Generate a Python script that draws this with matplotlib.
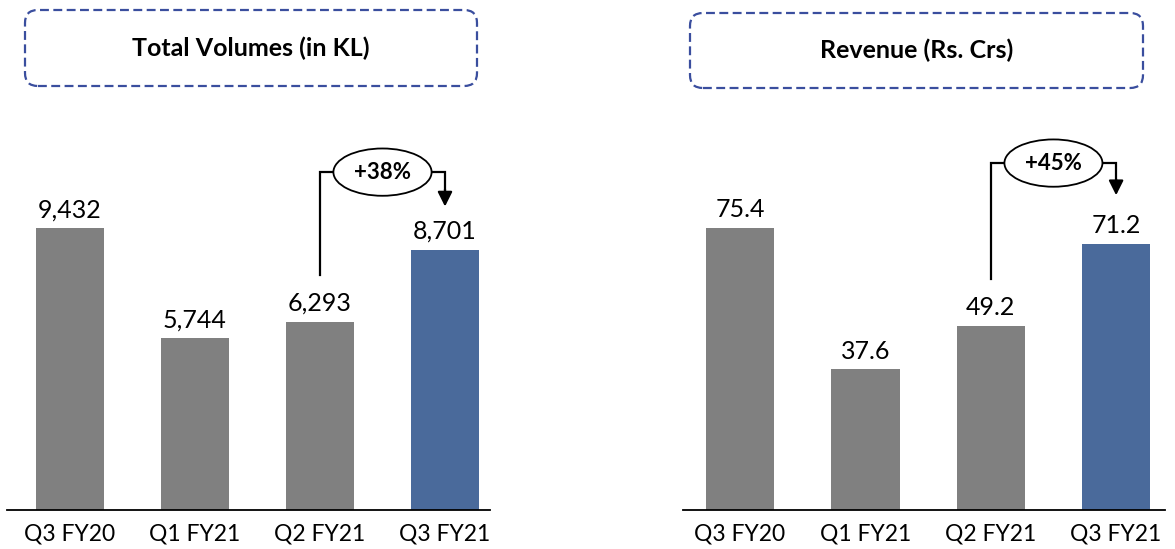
import matplotlib
matplotlib.use('Agg')
import matplotlib.pyplot as plt
from matplotlib.patches import FancyBboxPatch

plt.rcParams['font.family'] = ['Lato', 'DejaVu Sans']

quarters = ['Q3 FY20', 'Q1 FY21', 'Q2 FY21', 'Q3 FY21']
volumes = [9432, 5744, 6293, 8701]
revenue = [75.4, 37.6, 49.2, 71.2]
volume_growth = '+38%'
revenue_growth = '+45%'

W, H = 1175, 549
GRAY = '#808080'
BLUE = '#4A6A9B'
BOX = '#3A4E9E'


def px_rect(x0, y0, x1, y1):
    """pixel box (top-left origin) -> figure fraction [l, b, w, h]"""
    return [x0 / W, 1 - y1 / H, (x1 - x0) / W, (y1 - y0) / H]


def title_box(fig, x0, y0, x1, y1, text):
    l, b, w, h = px_rect(x0, y0, x1, y1)
    box = FancyBboxPatch((l, b), w, h, transform=fig.transFigure,
                         boxstyle='round,pad=0,rounding_size=0.011',
                         fill=False, edgecolor=BOX, linewidth=1.6,
                         linestyle=(0, (4, 2)), mutation_aspect=W / H)
    fig.patches.append(box)
    fig.text(l + w / 2, b + h / 2, text, ha='center', va='center',
             fontsize=18, fontweight='bold')


def bar_panel(ax, values, fmt, xlim, ylim, growth, line_low, line_top, tip, lbl_x):
    x = range(len(values))
    colors = [GRAY] * (len(values) - 1) + [BLUE]
    ax.bar(x, values, width=0.545, color=colors)
    for xi, v in zip(x, values):
        ax.text(xi, v + ylim[1] * 0.017, fmt(v), ha='center', va='bottom', fontsize=18)
    ax.set_xlim(*xlim)
    ax.set_ylim(*ylim)
    ax.set_xticks(list(x))
    ax.set_xticklabels(quarters, fontsize=16.5)
    ax.tick_params(axis='x', length=0, pad=10)
    ax.set_yticks([])
    for s in ['top', 'left', 'right']:
        ax.spines[s].set_visible(False)
    ax.spines['bottom'].set_linewidth(1.3)

    # growth bracket from Q2 to Q3
    ax.plot([2, 2, 3, 3], [line_low, line_top, line_top, tip + (line_top - tip) * 0.45],
            color='black', linewidth=1.6, solid_joinstyle='miter')
    ax.annotate('', xy=(3, tip), xytext=(3, tip + (line_top - tip) * 0.5),
                arrowprops=dict(arrowstyle='-|>', color='black', lw=1.6,
                                mutation_scale=22, shrinkA=0, shrinkB=0))
    ax.text(lbl_x, line_top, growth, ha='center', va='center', fontsize=16,
            fontweight='bold',
            bbox=dict(boxstyle='ellipse,pad=0.28', facecolor='white',
                      edgecolor='black', linewidth=1.3))


fig = plt.figure(figsize=(W / 100, H / 100), dpi=100)

ax1 = fig.add_axes(px_rect(7, 110, 490, 510))
bar_panel(ax1, volumes, lambda v: f'{v:,}', (-0.504, 3.36), (0, 13378),
          volume_growth, 7860, 11300, 10150, 2.5)

ax2 = fig.add_axes(px_rect(683, 110, 1165, 510))
bar_panel(ax2, revenue, lambda v: f'{v:.1f}', (-0.455, 3.39), (0, 107),
          revenue_growth, 61.8, 92.8, 84.2, 2.5)

title_box(fig, 25, 10, 477, 86, 'Total Volumes (in KL)')
title_box(fig, 690, 13, 1143, 88, 'Revenue (Rs. Crs)')

fig.savefig('out.png', dpi=100)
